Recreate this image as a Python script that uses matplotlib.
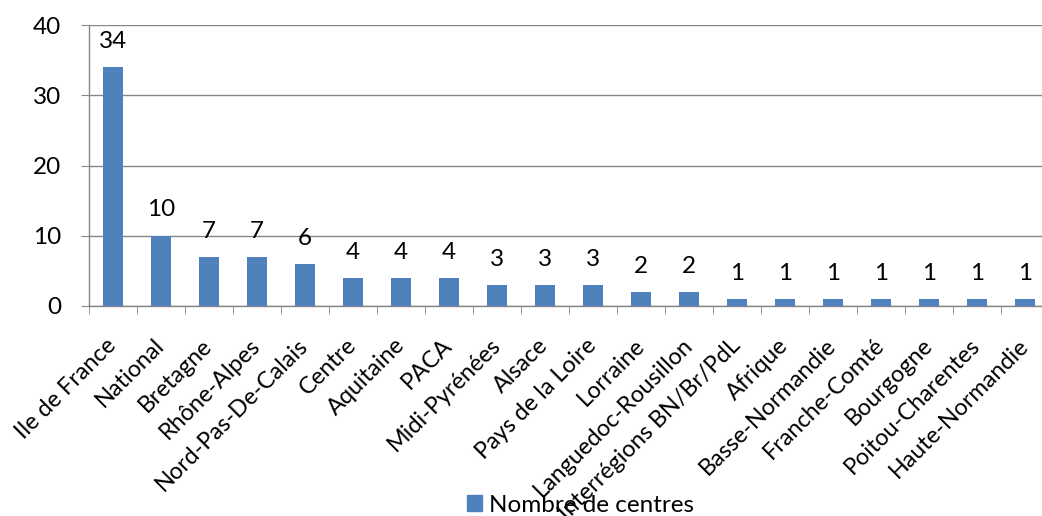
"""Bar chart: nombre de centres par region."""

import matplotlib.pyplot as plt
from matplotlib.patches import Patch
import numpy as np

REGIONS = [
    "Ile de France", "National", "Bretagne", "Rhône-Alpes", "Nord-Pas-De-Calais",
    "Centre", "Aquitaine", "PACA", "Midi-Pyrénées", "Alsace", "Pays de la Loire",
    "Lorraine", "Languedoc-Rousillon", "Interrégions BN/Br/PdL", "Afrique",
    "Basse-Normandie", "Franche-Comté", "Bourgogne", "Poitou-Charentes",
    "Haute-Normandie",
]
CENTRES = [34, 10, 7, 7, 6, 4, 4, 4, 3, 3, 3, 2, 2, 1, 1, 1, 1, 1, 1, 1]
Y_TICKS = [0, 10, 20, 30, 40]

BAR_COLOR = "#4F81BD"
AXIS_COLOR = "#868686"
FONT = ["Lato", "DejaVu Sans"]
FONT_SIZE = 17.5
LABEL_SIZE = 16.8


def main():
    plt.rcParams["font.family"] = FONT
    fig = plt.figure(figsize=(10.42, 5.16), dpi=100)
    # axes run a bit past the right edge, like the cropped original
    ax = fig.add_axes([89 / 1042, 210 / 516, 960 / 1042, 281 / 516])

    x = np.arange(len(REGIONS))
    ax.bar(x, CENTRES, width=0.4, color=BAR_COLOR, zorder=3)

    for xi, v in zip(x, CENTRES):
        ax.annotate(str(v), (xi, v), xytext=(0, 11), textcoords="offset points",
                    ha="center", va="bottom", fontsize=FONT_SIZE)

    ax.set_xlim(-0.5, len(REGIONS) - 0.5)
    ax.set_ylim(0, 40)
    ax.set_yticks(Y_TICKS)
    ax.tick_params(axis="y", length=6, color=AXIS_COLOR, labelsize=FONT_SIZE, pad=14)

    ax.set_xticks(x)
    ax.set_xticklabels(REGIONS, rotation=45, ha="right", va="center",
                       rotation_mode="anchor", fontsize=LABEL_SIZE)
    ax.tick_params(axis="x", which="major", length=0, pad=26)
    ax.set_xticks(np.arange(len(REGIONS) + 1) - 0.5, minor=True)
    ax.tick_params(axis="x", which="minor", length=6, color=AXIS_COLOR)

    ax.grid(axis="y", color=AXIS_COLOR, linewidth=1, zorder=0)
    for side in ("top", "right"):
        ax.spines[side].set_visible(False)
    for side in ("left", "bottom"):
        ax.spines[side].set_color(AXIS_COLOR)
        ax.spines[side].set_linewidth(1)

    handle = Patch(facecolor=BAR_COLOR, edgecolor=BAR_COLOR)
    fig.legend([handle], ["Nombre de centres"], loc="center",
               bbox_to_anchor=(0.557, 0.021), frameon=False, fontsize=FONT_SIZE,
               handlelength=0.6, handleheight=0.6, handletextpad=0.3,
               borderpad=0, borderaxespad=0)

    fig.savefig("out.png", dpi=100)


if __name__ == "__main__":
    main()
